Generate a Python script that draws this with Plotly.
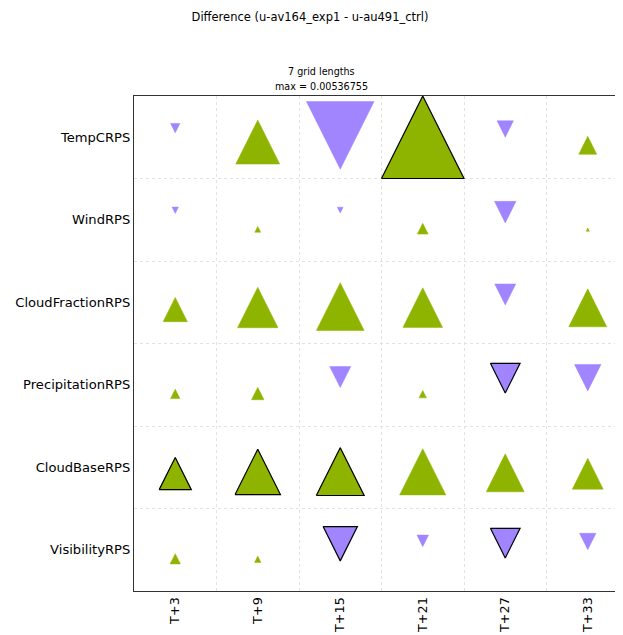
import plotly.graph_objects as go

# scorecard labels
metrics = ["TempCRPS", "WindRPS", "CloudFractionRPS", "PrecipitationRPS", "CloudBaseRPS", "VisibilityRPS"]
lead_times = ["T+3", "T+9", "T+15", "T+21", "T+27", "T+33"]
max_diff = 0.00536755

# differences (exp1 - ctrl) per lead time
temp_crps = [-0.00061, 0.00286, -0.00440, 0.00536755, -0.00107, 0.00117]
wind_rps = [-0.00041, 0.00038, -0.00038, 0.00070, -0.00140, 0.00021]
cloud_fraction_rps = [0.00158, 0.00263, 0.00311, 0.00258, -0.00137, 0.00247]
precipitation_rps = [0.00061, 0.00081, -0.00137, 0.00048, -0.00193, -0.00172]
cloud_base_rps = [0.00209, 0.00295, 0.00311, 0.00301, 0.00247, 0.00201]
visibility_rps = [0.00067, 0.00041, -0.00223, -0.00075, -0.00193, -0.00107]

# significant differences (black outline)
temp_sig = [0, 0, 0, 1, 0, 0]
wind_sig = [0, 0, 0, 0, 0, 0]
cloud_fraction_sig = [0, 0, 0, 0, 0, 0]
precipitation_sig = [0, 0, 0, 0, 1, 0]
cloud_base_sig = [1, 1, 1, 0, 0, 0]
visibility_sig = [0, 0, 1, 0, 1, 0]

values = [temp_crps, wind_rps, cloud_fraction_rps, precipitation_rps, cloud_base_rps, visibility_rps]
significant = [temp_sig, wind_sig, cloud_fraction_sig, precipitation_sig, cloud_base_sig, visibility_sig]

GREEN = "#8fb400"
PURPLE = "#a085ff"

# the page body has an 8px margin, so the figure is laid out 8px up/left
W, H = 615, 627
LEFT, TOP, BOTTOM = 126, 88, 44
CELL = 82.5
plot_w = W - LEFT
plot_h = H - TOP - BOTTOM


def triangle(col, row, value):
    """
    Triangle vertices for one cell, size scaled by |value| / max_diff
    (up for positive, down for negative; rows increase downwards)
    """
    s = abs(value) / max_diff
    if value >= 0:
        p = row + 0.125
        tip, base = p - 0.625 * s, p + 0.375 * s
    else:
        p = row - 0.125
        tip, base = p + 0.625 * s, p - 0.375 * s
    xs = [col - s / 2, col + s / 2, col, col - s / 2, None]
    ys = [base, base, tip, base, None]
    return xs, ys


fig = go.Figure()

up_x, up_y, down_x, down_y, sig_x, sig_y = [], [], [], [], [], []
for r, row_vals in enumerate(values):
    for c, v in enumerate(row_vals):
        xs, ys = triangle(c, r, v)
        if v >= 0:
            up_x += xs
            up_y += ys
        else:
            down_x += xs
            down_y += ys
        if significant[r][c]:
            sig_x += xs
            sig_y += ys

fig.add_trace(go.Scatter(x=up_x, y=up_y, mode="lines", fill="toself", fillcolor=GREEN,
                         line=dict(color=GREEN, width=0.5), hoverinfo="skip", showlegend=False))
fig.add_trace(go.Scatter(x=down_x, y=down_y, mode="lines", fill="toself", fillcolor=PURPLE,
                         line=dict(color=PURPLE, width=0.5), hoverinfo="skip", showlegend=False))
fig.add_trace(go.Scatter(x=sig_x, y=sig_y, mode="lines", line=dict(color="black", width=1.2),
                         hoverinfo="skip", showlegend=False))

# plot settings
fig.update_layout(
    autosize=False,
    width=W,
    height=H,
    margin=dict(l=LEFT, r=0, t=TOP, b=BOTTOM),
    paper_bgcolor="white",
    plot_bgcolor="white",
    font=dict(family="DejaVu Sans", color="black"),
    title=dict(text="Difference (u-av164_exp1 - u-au491_ctrl)", x=302 / W, xanchor="center",
               y=1 - 9 / H, yanchor="middle", font=dict(size=11.5, color="black")),
    xaxis=dict(
        range=[-0.5, -0.5 + plot_w / CELL],
        tickvals=list(range(len(lead_times))),
        ticktext=lead_times,
        tickangle=-90,
        tickfont=dict(size=12.8),
        showgrid=False,
        zeroline=False,
        showline=True,
        mirror=True,
        linecolor="#333",
        linewidth=1.2,
        ticks="",
        minor=dict(tickvals=[i + 0.5 for i in range(len(lead_times))], showgrid=True,
                   gridcolor="#e2e2e2", griddash="dot", gridwidth=1),
    ),
    yaxis=dict(
        range=[len(metrics) - 0.5, -0.5],
        tickvals=list(range(len(metrics))),
        ticktext=metrics,
        tickfont=dict(size=13.1),
        showgrid=False,
        zeroline=False,
        showline=True,
        linecolor="#333",
        linewidth=1.2,
        ticks="",
        minor=dict(tickvals=[i + 0.5 for i in range(len(metrics))], showgrid=True,
                   gridcolor="#e2e2e2", griddash="dot", gridwidth=1),
    ),
)

# sub title above the scorecard
fig.add_annotation(text="7 grid lengths", x=(313 - LEFT) / plot_w, y=1 + 24 / plot_h,
                   xref="paper", yref="paper", xanchor="center", yanchor="middle",
                   showarrow=False, font=dict(size=9.6))
fig.add_annotation(text=f"max = {max_diff}", x=(313 - LEFT) / plot_w, y=1 + 10 / plot_h,
                   xref="paper", yref="paper", xanchor="center", yanchor="middle",
                   showarrow=False, font=dict(size=9.6))

fig.write_html("out.html")
